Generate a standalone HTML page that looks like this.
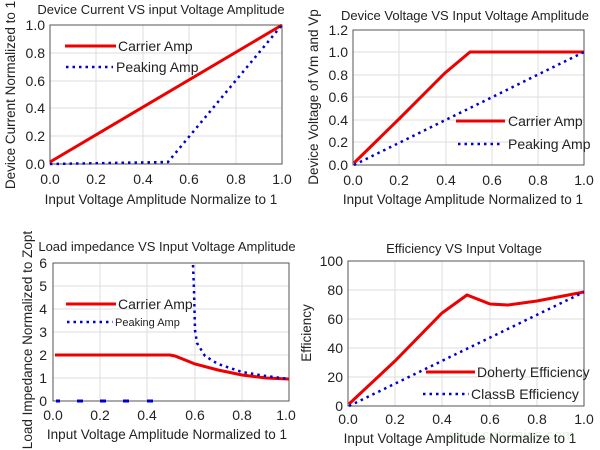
<!DOCTYPE html>
<html><head><style>body{margin:0;background:#fff}svg{display:block}text{font-family:"Liberation Sans",sans-serif;fill:#222}</style></head><body>
<svg width="600" height="450" viewBox="0 0 600 450" xmlns="http://www.w3.org/2000/svg">
<g font-size="14">
<!-- Plot 1 -->
<text x="161" y="14" font-size="13" text-anchor="middle">Device Current VS input Voltage Amplitude</text>
<g stroke="#ddd" stroke-width="1">
<line x1="96" y1="25" x2="96" y2="164"/><line x1="143" y1="25" x2="143" y2="164"/><line x1="189" y1="25" x2="189" y2="164"/><line x1="236" y1="25" x2="236" y2="164"/>
<line x1="50" y1="53" x2="282" y2="53"/><line x1="50" y1="81" x2="282" y2="81"/><line x1="50" y1="108" x2="282" y2="108"/><line x1="50" y1="136" x2="282" y2="136"/>
</g>
<rect x="50" y="25" width="232" height="139" fill="none" stroke="#555"/>
<g text-anchor="end"><text x="45" y="30">1.0</text><text x="45" y="58">0.8</text><text x="45" y="86">0.6</text><text x="45" y="113">0.4</text><text x="45" y="141">0.2</text><text x="45" y="169">0.0</text></g>
<g text-anchor="middle"><text x="50" y="184">0.0</text><text x="96" y="184">0.2</text><text x="143" y="184">0.4</text><text x="189" y="184">0.6</text><text x="236" y="184">0.8</text><text x="282" y="184">1.0</text></g>
<text x="161" y="204" text-anchor="middle" font-size="13.5">Input Voltage Amplitude Normalize to 1</text>
<text transform="translate(15,95) rotate(-90)" text-anchor="middle" font-size="13.5">Device Current Normalized to 1</text>
<line x1="50" y1="162" x2="282" y2="25" stroke="#e00" stroke-width="3"/>
<polyline points="50,164 168,162 282,25" fill="none" stroke="#00c" stroke-width="2.5" stroke-dasharray="2.5,4"/>
<line x1="65" y1="46" x2="116" y2="46" stroke="#e00" stroke-width="3"/><text x="118" y="51">Carrier Amp</text>
<line x1="66" y1="67" x2="113" y2="67" stroke="#00c" stroke-width="2.5" stroke-dasharray="2.5,4"/><text x="116" y="72">Peaking Amp</text>

<!-- Plot 2 -->
<text x="465" y="20" font-size="13" text-anchor="middle">Device Voltage VS Input Voltage Amplitude</text>
<g stroke="#ddd">
<line x1="399" y1="30" x2="399" y2="165"/><line x1="446" y1="30" x2="446" y2="165"/><line x1="492" y1="30" x2="492" y2="165"/><line x1="538" y1="30" x2="538" y2="165"/>
<line x1="353" y1="52" x2="584" y2="52"/><line x1="353" y1="75" x2="584" y2="75"/><line x1="353" y1="97" x2="584" y2="97"/><line x1="353" y1="120" x2="584" y2="120"/><line x1="353" y1="142" x2="584" y2="142"/>
</g>
<rect x="353" y="30" width="231" height="135" fill="none" stroke="#555"/>
<g text-anchor="end"><text x="348" y="35">1.2</text><text x="348" y="57">1.0</text><text x="348" y="80">0.8</text><text x="348" y="102">0.6</text><text x="348" y="125">0.4</text><text x="348" y="147">0.2</text><text x="348" y="170">0.0</text></g>
<g text-anchor="middle"><text x="353" y="185">0.0</text><text x="399" y="185">0.2</text><text x="446" y="185">0.4</text><text x="492" y="185">0.6</text><text x="538" y="185">0.8</text><text x="584" y="185">1.0</text></g>
<text x="463" y="204" text-anchor="middle" font-size="13.5">Input Voltage Amplitude Normalized to 1</text>
<text transform="translate(318,97) rotate(-90)" text-anchor="middle" font-size="13.5">Device Voltage of Vm and Vp</text>
<polyline points="354,163 400,118 445,73 470,52 584,52" fill="none" stroke="#e00" stroke-width="3"/>
<line x1="354" y1="165" x2="584" y2="52" stroke="#00c" stroke-width="2.5" stroke-dasharray="2.5,4"/>
<line x1="456" y1="121" x2="505" y2="121" stroke="#e00" stroke-width="3"/><text x="508" y="126">Carrier Amp</text>
<line x1="458" y1="144" x2="503" y2="144" stroke="#00c" stroke-width="2.5" stroke-dasharray="2.5,4"/><text x="508" y="149">Peaking Amp</text>

<!-- Plot 3 -->
<text x="167" y="251" font-size="13" text-anchor="middle">Load impedance VS Input Voltage Amplitude</text>
<g stroke="#ddd">
<line x1="100" y1="263" x2="100" y2="401"/><line x1="147" y1="263" x2="147" y2="401"/><line x1="195" y1="263" x2="195" y2="401"/><line x1="242" y1="263" x2="242" y2="401"/>
<line x1="53" y1="286" x2="289" y2="286"/><line x1="53" y1="309" x2="289" y2="309"/><line x1="53" y1="332" x2="289" y2="332"/><line x1="53" y1="355" x2="289" y2="355"/><line x1="53" y1="378" x2="289" y2="378"/>
</g>
<rect x="53" y="263" width="236" height="138" fill="none" stroke="#555"/>
<g text-anchor="end"><text x="47" y="268">6</text><text x="47" y="291">5</text><text x="47" y="314">4</text><text x="47" y="337">3</text><text x="47" y="360">2</text><text x="47" y="383">1</text><text x="47" y="406">0</text></g>
<g text-anchor="middle"><text x="53" y="420">0.0</text><text x="100" y="420">0.2</text><text x="147" y="420">0.4</text><text x="195" y="420">0.6</text><text x="242" y="420">0.8</text><text x="286" y="420">1.0</text></g>
<text x="167" y="439" text-anchor="middle" font-size="13.5">Input Voltage Amplitude Normalized to 1</text>
<text transform="translate(32,340) rotate(-90)" text-anchor="middle" font-size="13.5">Load Impedance Normalized to Zopt</text>
<polyline points="55,355 170,355 175,356 195,364 218,370 242,375 266,378 289,379" fill="none" stroke="#e00" stroke-width="3"/>
<polyline points="193,265 194,290 195,330 197,343 205,356 218,364 242,372 266,376 289,379" fill="none" stroke="#00c" stroke-width="2.5" stroke-dasharray="2.5,4"/>
<g stroke="#00c" stroke-width="3"><line x1="56" y1="401" x2="60" y2="401"/><line x1="77" y1="401" x2="83" y2="401"/><line x1="100" y1="401" x2="106" y2="401"/><line x1="123" y1="401" x2="129" y2="401"/><line x1="147" y1="401" x2="153" y2="401"/></g>
<line x1="66" y1="304" x2="116" y2="304" stroke="#e00" stroke-width="3"/><text x="118" y="309">Carrier Amp</text>
<line x1="67" y1="322" x2="113" y2="322" stroke="#00c" stroke-width="2.5" stroke-dasharray="2.5,4"/><text x="115" y="326" font-size="11">Peaking Amp</text>

<!-- Plot 4 -->
<text x="464" y="253" font-size="13" text-anchor="middle">Efficiency VS Input Voltage</text>
<g stroke="#ddd">
<line x1="395" y1="261" x2="395" y2="406"/><line x1="442" y1="261" x2="442" y2="406"/><line x1="490" y1="261" x2="490" y2="406"/><line x1="537" y1="261" x2="537" y2="406"/>
<line x1="348" y1="290" x2="584" y2="290"/><line x1="348" y1="319" x2="584" y2="319"/><line x1="348" y1="348" x2="584" y2="348"/><line x1="348" y1="377" x2="584" y2="377"/>
</g>
<rect x="348" y="261" width="236" height="145" fill="none" stroke="#555"/>
<g text-anchor="end"><text x="343" y="266">100</text><text x="343" y="295">80</text><text x="343" y="324">60</text><text x="343" y="353">40</text><text x="343" y="382">20</text><text x="343" y="411">0</text></g>
<g text-anchor="middle"><text x="348" y="424">0.0</text><text x="395" y="424">0.2</text><text x="442" y="424">0.4</text><text x="490" y="424">0.6</text><text x="537" y="424">0.8</text><text x="584" y="424">1.0</text></g>
<text x="446" y="440" font-size="15" style="fill:#e3f0e3">www.cntronics.com</text>
<text x="460" y="443" text-anchor="middle" font-size="13.5">Input Voltage Amplitude Normalize to 1</text>
<text transform="translate(311,333) rotate(-90)" text-anchor="middle" font-size="13.5">Efficiency</text>
<polyline points="349,404 395,361 442,313 467,295 490,304 508,305 537,301 584,292" fill="none" stroke="#e00" stroke-width="3"/>
<line x1="349" y1="406" x2="584" y2="292" stroke="#00c" stroke-width="2.5" stroke-dasharray="2.5,4"/>
<line x1="426" y1="372" x2="475" y2="372" stroke="#e00" stroke-width="3"/><text x="477" y="377">Doherty Efficiency</text>
<line x1="423" y1="394" x2="469" y2="394" stroke="#00c" stroke-width="2.5" stroke-dasharray="2.5,4"/><text x="471" y="399">ClassB Efficiency</text>
</g>
</svg>
</body></html>
